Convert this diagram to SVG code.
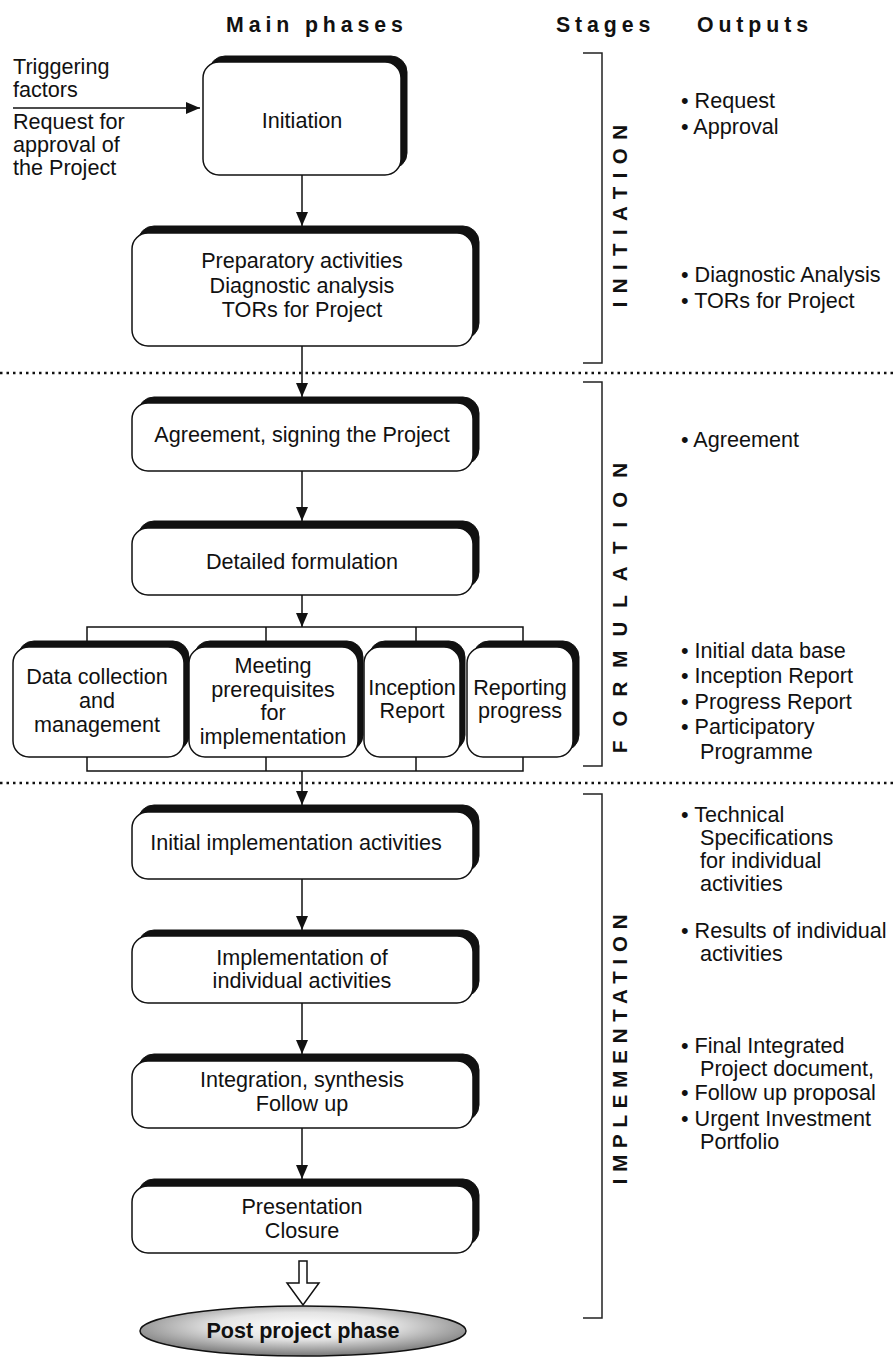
<svg xmlns="http://www.w3.org/2000/svg" width="896" height="1359" viewBox="0 0 896 1359">
<defs>
<style>
text{font-family:"Liberation Sans",Arial,sans-serif;font-size:21.6px;fill:#111}
.c{text-anchor:middle}
.h{font-weight:bold;font-size:21.3px;letter-spacing:4.9px}
.st{font-weight:bold;font-size:20.5px;text-anchor:middle}
.sh{fill:#111;stroke:#111;stroke-width:1}
.bx{fill:#fff;stroke:#111;stroke-width:1.5}
.ln{fill:none;stroke:#111;stroke-width:1.5}
.br{fill:none;stroke:#222;stroke-width:1.5}
.dot{stroke:#111;stroke-width:2.5;stroke-dasharray:2.5 4}
</style>
<marker id="ah" viewBox="0 0 14 12" refX="14" refY="6" markerWidth="14" markerHeight="12" markerUnits="userSpaceOnUse" orient="auto">
<path d="M0,0 L14,6 L0,12 z" fill="#111"/>
</marker>
<radialGradient id="eg" cx="0.5" cy="0.4" r="0.6">
<stop offset="0" stop-color="#ffffff"/>
<stop offset="0.45" stop-color="#e4e4e4"/>
<stop offset="1" stop-color="#777777"/>
</radialGradient>
</defs>

<g id="headers">
<text class="h" x="226" y="32">Main phases</text>
<text class="h" x="556" y="32">Stages</text>
<text class="h" x="697" y="32">Outputs</text>
</g>

<g id="separators">
<line class="dot" x1="0" y1="373" x2="896" y2="373"/>
<line class="dot" x1="0" y1="783" x2="896" y2="783"/>
</g>

<g id="stage-brackets">
<path class="br" d="M583,53 H602 V363 H583"/>
<path class="br" d="M583,382 H602 V766 H583"/>
<path class="br" d="M583,794 H602 V1318 H583"/>
<text class="st" transform="translate(627,212) rotate(-90)" letter-spacing="8.4">INITIATION</text>
<text class="st" transform="translate(627,601) rotate(-90)" letter-spacing="14">FORMULATION</text>
<text class="st" transform="translate(627,1046) rotate(-90)" letter-spacing="6.8">IMPLEMENTATION</text>
</g>

<g id="trigger-label">
<text x="13" y="74">Triggering</text>
<text x="13" y="97">factors</text>
<text x="13" y="129">Request for</text>
<text x="13" y="152">approval of</text>
<text x="13" y="175">the Project</text>
</g>

<g id="connectors">
<line class="ln" x1="13" y1="108" x2="200" y2="108" marker-end="url(#ah)"/>
<line class="ln" x1="302" y1="175" x2="302" y2="226" marker-end="url(#ah)"/>
<line class="ln" x1="302" y1="346" x2="302" y2="397" marker-end="url(#ah)"/>
<line class="ln" x1="302" y1="471" x2="302" y2="521" marker-end="url(#ah)"/>
<line class="ln" x1="302" y1="595" x2="302" y2="627" marker-end="url(#ah)"/>
<path class="ln" d="M87,641 V627 H523 V641 M266,627 V641 M416,627 V641"/>
<path class="ln" d="M87,757 V771 H523 V757 M266,771 V757 M416,771 V757"/>
<line class="ln" x1="302" y1="771" x2="302" y2="805" marker-end="url(#ah)"/>
<line class="ln" x1="302" y1="879" x2="302" y2="930" marker-end="url(#ah)"/>
<line class="ln" x1="302" y1="1003" x2="302" y2="1054" marker-end="url(#ah)"/>
<line class="ln" x1="302" y1="1128" x2="302" y2="1179" marker-end="url(#ah)"/>
<polygon points="299,1261 307,1261 307,1283 319,1283 303,1305 287,1283 299,1283" fill="#fff" stroke="#111" stroke-width="1.5"/>
</g>

<g id="n-initiation">
<rect class="sh" x="209" y="56" width="198" height="113" rx="16"/>
<rect class="bx" x="203" y="62" width="198" height="113" rx="16"/>
<text class="c" x="302" y="128">Initiation</text>
</g>

<g id="n-preparatory">
<rect class="sh" x="138" y="226" width="341" height="113" rx="16"/>
<rect class="bx" x="132" y="233" width="341" height="113" rx="16"/>
<text class="c" x="302" y="268">Preparatory activities</text>
<text class="c" x="302" y="293">Diagnostic analysis</text>
<text class="c" x="302" y="317">TORs for Project</text>
</g>

<g id="n-agreement">
<rect class="sh" x="138" y="397" width="341" height="68" rx="16"/>
<rect class="bx" x="132" y="403" width="341" height="68" rx="16"/>
<text class="c" x="302" y="442">Agreement, signing the Project</text>
</g>

<g id="n-detailed">
<rect class="sh" x="138" y="521" width="341" height="67" rx="16"/>
<rect class="bx" x="132" y="528" width="341" height="67" rx="16"/>
<text class="c" x="302" y="569">Detailed formulation</text>
</g>

<g id="n-data">
<rect class="sh" x="18" y="641" width="171" height="110" rx="16"/>
<rect class="bx" x="13" y="647" width="171" height="110" rx="16"/>
<text class="c" x="97" y="684">Data collection</text>
<text class="c" x="97" y="708">and</text>
<text class="c" x="97" y="732">management</text>
</g>

<g id="n-meeting">
<rect class="sh" x="194" y="641" width="169" height="110" rx="16"/>
<rect class="bx" x="189" y="647" width="169" height="110" rx="16"/>
<text class="c" x="273" y="673">Meeting</text>
<text class="c" x="273" y="697">prerequisites</text>
<text class="c" x="273" y="720">for</text>
<text class="c" x="273" y="744">implementation</text>
</g>

<g id="n-inception">
<rect class="sh" x="369" y="641" width="96" height="110" rx="16"/>
<rect class="bx" x="364" y="647" width="96" height="110" rx="16"/>
<text class="c" x="412" y="695">Inception</text>
<text class="c" x="412" y="718">Report</text>
</g>

<g id="n-reporting">
<rect class="sh" x="473" y="641" width="106" height="110" rx="16"/>
<rect class="bx" x="467" y="647" width="106" height="110" rx="16"/>
<text class="c" x="520" y="695">Reporting</text>
<text class="c" x="520" y="718">progress</text>
</g>

<g id="n-initial-impl">
<rect class="sh" x="138" y="805" width="341" height="67" rx="16"/>
<rect class="bx" x="132" y="812" width="341" height="67" rx="16"/>
<text class="c" x="296" y="850">Initial implementation activities</text>
</g>

<g id="n-impl-individual">
<rect class="sh" x="138" y="930" width="341" height="67" rx="16"/>
<rect class="bx" x="132" y="936" width="341" height="67" rx="16"/>
<text class="c" x="302" y="965">Implementation of</text>
<text class="c" x="302" y="988">individual activities</text>
</g>

<g id="n-integration">
<rect class="sh" x="138" y="1054" width="341" height="67" rx="16"/>
<rect class="bx" x="132" y="1061" width="341" height="67" rx="16"/>
<text class="c" x="302" y="1087">Integration, synthesis</text>
<text class="c" x="302" y="1111">Follow up</text>
</g>

<g id="n-presentation">
<rect class="sh" x="138" y="1179" width="341" height="67" rx="16"/>
<rect class="bx" x="132" y="1186" width="341" height="67" rx="16"/>
<text class="c" x="302" y="1214">Presentation</text>
<text class="c" x="302" y="1238">Closure</text>
</g>

<g id="n-post">
<ellipse cx="303" cy="1331" rx="163" ry="25" fill="url(#eg)" stroke="#111" stroke-width="1.5"/>
<text class="c" x="303" y="1338" font-weight="bold" font-size="21.3">Post project phase</text>
</g>

<g id="outputs">
<text x="681" y="108">• Request</text>
<text x="681" y="134">• Approval</text>
<text x="681" y="282">• Diagnostic Analysis</text>
<text x="681" y="308">• TORs for Project</text>
<text x="681" y="447">• Agreement</text>
<text x="681" y="658">• Initial data base</text>
<text x="681" y="683">• Inception Report</text>
<text x="681" y="709">• Progress Report</text>
<text x="681" y="734">• Participatory</text>
<text x="700" y="759">Programme</text>
<text x="681" y="822">• Technical</text>
<text x="700" y="845">Specifications</text>
<text x="700" y="868">for individual</text>
<text x="700" y="891">activities</text>
<text x="681" y="938">• Results of individual</text>
<text x="700" y="961">activities</text>
<text x="681" y="1053">• Final Integrated</text>
<text x="700" y="1076">Project document,</text>
<text x="681" y="1100">• Follow up proposal</text>
<text x="681" y="1126">• Urgent Investment</text>
<text x="700" y="1149">Portfolio</text>
</g>
</svg>
